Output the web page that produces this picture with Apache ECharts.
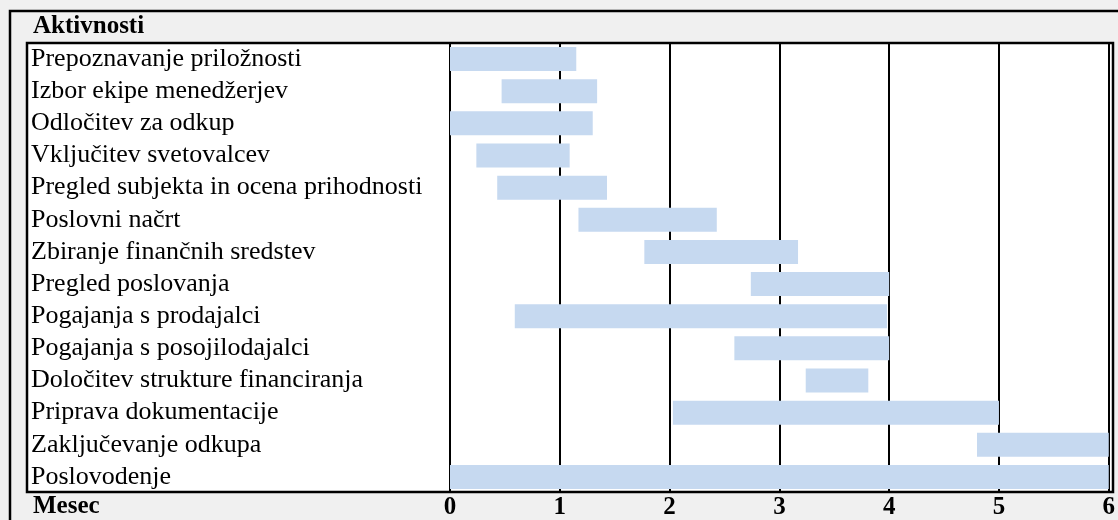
<!DOCTYPE html>
<html>
<head>
<meta charset="utf-8">
<script src="https://cdn.jsdelivr.net/npm/echarts@6/dist/echarts.min.js"></script>
<style>
html,body{margin:0;padding:0;background:#f0f0f0;}
#c{width:1118px;height:520px;}
</style>
</head>
<body>
<div id="c"></div>
<script>
var activities = [
  'Prepoznavanje priložnosti',
  'Izbor ekipe menedžerjev',
  'Odločitev za odkup',
  'Vključitev svetovalcev',
  'Pregled subjekta in ocena prihodnosti',
  'Poslovni načrt',
  'Zbiranje finančnih sredstev',
  'Pregled poslovanja',
  'Pogajanja s prodajalci',
  'Pogajanja s posojilodajalci',
  'Določitev strukture financiranja',
  'Priprava dokumentacije',
  'Zaključevanje odkupa',
  'Poslovodenje'
];
var startMonth = [0, 0.47, 0, 0.24, 0.43, 1.17, 1.77, 2.74, 0.59, 2.59, 3.24, 2.03, 4.8, 0];
var endMonth   = [1.15, 1.34, 1.30, 1.09, 1.43, 2.43, 3.17, 4.0, 3.98, 4.0, 3.81, 5.0, 6.0, 6.0];
var monthTicks = [0, 1, 2, 3, 4, 5, 6];
var headerText = 'Aktivnosti';
var axisTitle = 'Mesec';

var duration = endMonth.map(function (e, i) { return +(e - startMonth[i]).toFixed(3); });

var chart = echarts.init(document.getElementById('c'), null, {renderer: 'canvas'});
var serif = 'Liberation Serif';
chart.setOption({
  backgroundColor: '#f0f0f0',
  animation: false,
  grid: {left: 450, right: 5, top: 43, bottom: 27, containLabel: false},
  graphic: [
    {type: 'rect', z: -10, shape: {x: 10, y: 11, width: 1130, height: 530},
     style: {fill: '#f0f0f0', stroke: '#000', lineWidth: 2.5}},
    {type: 'rect', z: -9, shape: {x: 27, y: 43, width: 1086, height: 449},
     style: {fill: '#ffffff', stroke: null}},
    {type: 'rect', z: 100, shape: {x: 27, y: 43, width: 1086, height: 449},
     style: {fill: null, stroke: '#000', lineWidth: 2.5}},
    {type: 'text', left: 33, top: 14, z: 100,
     style: {text: headerText, fontFamily: serif, fontWeight: 'bold', fontSize: 25, fill: '#000'}},
    {type: 'text', left: 33, top: 494, z: 100,
     style: {text: axisTitle, fontFamily: serif, fontWeight: 'bold', fontSize: 25, fill: '#000'}}
  ],
  xAxis: {
    type: 'value', min: 0, max: 6, interval: 1,
    axisLine: {show: false}, axisTick: {show: false},
    splitLine: {show: true, lineStyle: {color: '#000', width: 2}},
    axisLabel: {
      margin: 2, color: '#000', fontFamily: serif, fontWeight: 'bold', fontSize: 25,
      hideOverlap: false,
      formatter: function (v) { return monthTicks.indexOf(v) >= 0 ? String(v) : ''; }
    }
  },
  yAxis: {
    type: 'category', inverse: true, data: activities,
    axisLine: {show: false}, axisTick: {show: false}, splitLine: {show: false},
    axisLabel: {
      interval: 0, hideOverlap: false,
      align: 'left', margin: 419, color: '#000', fontFamily: serif, fontSize: 26
    }
  },
  series: [
    {type: 'bar', stack: 'g', data: startMonth, barWidth: 24,
     itemStyle: {color: 'rgba(0,0,0,0)'}, silent: true},
    {type: 'bar', stack: 'g', data: duration, barWidth: 24,
     itemStyle: {color: '#c6d9f0'}}
  ]
});
</script>
</body>
</html>
